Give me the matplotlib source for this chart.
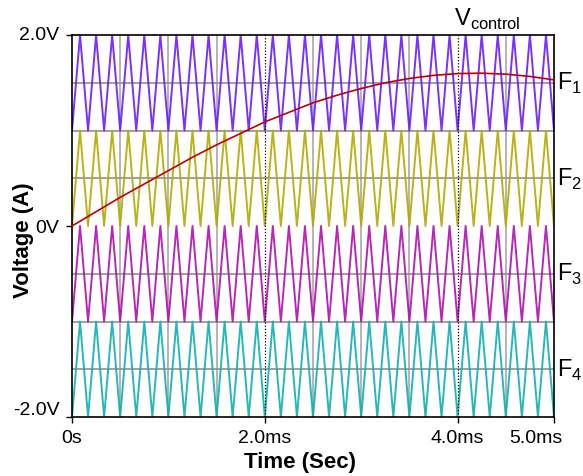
import numpy as np
import matplotlib
matplotlib.use("Agg")
import matplotlib.pyplot as plt
from matplotlib.transforms import ScaledTranslation

plt.rcParams['font.family'] = ['Liberation Sans', 'DejaVu Sans']
plt.rcParams['mathtext.fontset'] = 'custom'
plt.rcParams['mathtext.rm'] = 'Liberation Sans'

# ---- data ----
# carrier triangles: 30 cycles over 5 ms (6 kHz), trough at t=0
carrier_cycles = 30
t_end_ms = 5.0
band_names = ['F$_1$', 'F$_2$', 'F$_3$', 'F$_4$']
band_low = [1.0, 0.0, -1.0, -2.0]
band_high = [2.0, 1.0, 0.0, -1.0]
band_colors = ['#6a1cff', '#b4aa00', '#b010b0', '#10b0b0']

# control voltage every 0.25 ms
vctrl_t = [0.0, 0.25, 0.5, 0.75, 1.0, 1.25, 1.5, 1.75, 2.0, 2.25, 2.5,
           2.75, 3.0, 3.25, 3.5, 3.75, 4.0, 4.25, 4.5, 4.75, 5.0]
vctrl_v = [0.0, 0.15, 0.30, 0.44, 0.58, 0.72, 0.85, 0.97, 1.09, 1.19, 1.29,
           1.37, 1.44, 1.50, 1.545, 1.577, 1.596, 1.60, 1.59, 1.566, 1.53]

xtick_pos = [0, 2, 4, 5]
xtick_lab = ['0s', '2.0ms', '4.0ms', '5.0ms']
ytick_pos = [-2, 0, 2]
ytick_lab = ['-2.0V', '0V', '2.0V']

fig = plt.figure(figsize=(5.83, 4.77), dpi=100)
ax = fig.add_axes([72/583, 59/477, 482/583, 382/477])

# gridlines
for x in [0.5, 1.0, 1.5, 2.5, 3.0, 3.5, 4.5]:
    ax.axvline(x, color='#a8a8a8', lw=1.2, zorder=1)
for x in [2.0, 4.0]:
    ax.axvline(x, color='black', lw=0.9, ls=(0, (1, 1.5)), zorder=4)
for y in [1.5, 1.0, 0.5, -0.5, -1.0, -1.5]:
    ax.axhline(y, color='#909090', lw=1.2, zorder=1)

# triangle carriers
vert_t = np.linspace(0, t_end_ms, 2 * carrier_cycles + 1)
for lo, hi, col in zip(band_low, band_high, band_colors):
    vals = np.where(np.arange(len(vert_t)) % 2 == 0, lo, hi)
    ax.plot(vert_t, vals, color=col, lw=1.4, alpha=0.9, zorder=2)

ax.plot(vctrl_t, vctrl_v, color='#c00000', lw=1.2, zorder=5)

ax.set_xlim(0, 5)
ax.set_ylim(-2, 2)
ax.set_xticks(xtick_pos)
ax.set_xticklabels(xtick_lab, fontsize=14)
ax.set_yticks(ytick_pos)
ax.set_yticklabels(ytick_lab, fontsize=14)
ax.tick_params(direction='out', length=4, width=1, pad=5)
for s in ax.spines.values():
    s.set_linewidth(1.2)

# shift edge labels like the original
lbls = ax.get_xticklabels()
lbls[-1].set_transform(lbls[-1].get_transform() + ScaledTranslation(-18/100, 0, fig.dpi_scale_trans))
ylbls = ax.get_yticklabels()
ylbls[0].set_transform(ylbls[0].get_transform() + ScaledTranslation(0, 9/100, fig.dpi_scale_trans))
ylbls[-1].set_transform(ylbls[-1].get_transform() + ScaledTranslation(0, 3/100, fig.dpi_scale_trans))

# band labels
for name, lo, hi in zip(band_names, band_low, band_high):
    ax.text(1.006, (lo + hi) / 2, name, transform=ax.get_yaxis_transform(),
            fontsize=17, va='center', ha='left')

ax.text(3.96, 2.04, r'V$_{\mathrm{control}}$', fontsize=17, ha='left', va='bottom')

fig.text(300/583, 1 - 463/477, 'Time (Sec)', fontsize=16, fontweight='bold',
         ha='center', va='center')
fig.text(23/583, 1 - 240/477, 'Voltage (A)', fontsize=16, fontweight='bold',
         ha='center', va='center', rotation=90)

fig.savefig('out.png', dpi=100)
